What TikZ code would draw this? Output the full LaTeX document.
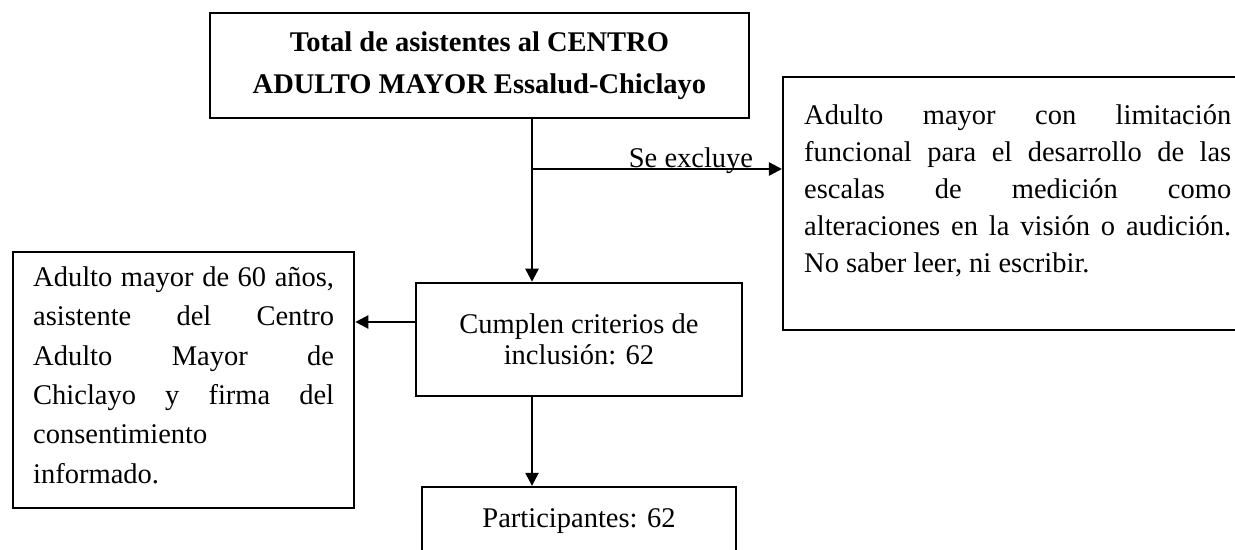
\documentclass[tikz,border=0pt]{standalone}
\usepackage{fontspec}
\setmainfont{Liberation Serif}
\usetikzlibrary{arrows.meta,positioning}

\begin{document}
\begin{tikzpicture}[x=0.421pt,y=-0.421pt,
  box/.style={draw,rectangle,line width=1pt,inner sep=0pt},
  txtbox/.style={box,anchor=north west,align=justify,text height=8.5pt},
  flow/.style={-{Triangle[length=5.5pt,width=5.5pt]},line width=1pt}]
  \useasboundingbox (0,0) rectangle (1235,549);
  \node[box,align=center,minimum width=227pt,minimum height=44.2pt,
    font=\bfseries\fontsize{12}{17.5}\selectfont] (total) at (479.5,65.5)
    {Total de asistentes al CENTRO\\ADULTO MAYOR Essalud-Chiclayo};
  \node[txtbox,text width=179.8pt,inner xsep=8.84pt,inner ysep=11.3pt,
    text depth=75.4pt,font=\fontsize{12}{15.6}\selectfont] (excl) at (782,76)
    {Adulto mayor con limitación\linebreak funcional para el desarrollo de las\linebreak
     escalas de medición como\linebreak alteraciones en la visión o audición.\linebreak
     No saber leer, ni escribir.};
  \node[txtbox,text width=126.7pt,inner xsep=8.42pt,inner ysep=5.8pt,
    text depth=87.7pt,font=\fontsize{12}{16.6}\selectfont] (incl) at (12,251)
    {Adulto mayor de 60 años,\linebreak asistente del Centro\linebreak Adulto Mayor de\linebreak
     Chiclayo y firma del\linebreak consentimiento\\ informado.};
  \node[box,align=center,minimum width=137pt,minimum height=47.6pt,
    font=\fontsize{12}{13}\selectfont] (crit) at (579,339.5)
    {Cumplen criterios de\\inclusión: 62};
  \node[box,minimum width=132pt,minimum height=28.6pt,
    font=\fontsize{12}{14}\selectfont] (part) at (579,521) {Participantes: 62};
  \coordinate (split) at (532,169);
  \draw[flow] (split |- total.south) -- (split |- crit.north);
  \draw[flow] (split) -- (split -| excl.west)
    node[pos=0.636,anchor=base,yshift=0.8pt,font=\fontsize{12}{14}\selectfont] {Se excluye};
  \draw[flow] ([yshift=7.37pt]crit.west) -- ([yshift=7.37pt]crit.west -| incl.east);
  \draw[flow] (split |- crit.south) -- (split |- part.north);
\end{tikzpicture}
\end{document}
